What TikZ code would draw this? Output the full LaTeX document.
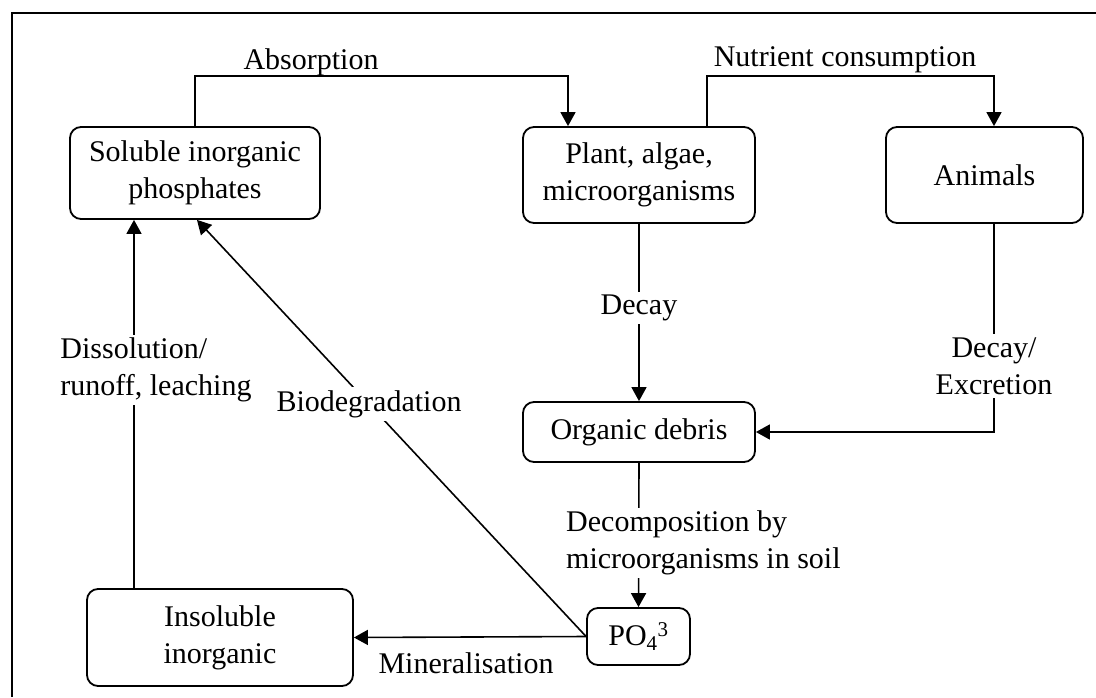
\documentclass[tikz,border=0pt]{standalone}
\usepackage{fontspec}
\setmainfont{Liberation Serif}
\usetikzlibrary{arrows.meta}
\begin{document}
\begin{tikzpicture}[x=1pt,y=-1pt,
  every node/.style={font=\fontsize{30}{37}\selectfont, inner sep=0pt},
  box/.style={draw, line width=1.8pt, rounded corners=11pt, align=center, minimum width=#1},
  lab/.style={fill=white, inner sep=3pt, align=center},
  conn/.style={line width=1.6pt},
  arr/.style={conn, -{Triangle[length=14pt,width=15pt]}}]
\useasboundingbox (0,0) rectangle (1096,697);
\draw[line width=1.8pt] (12,697) -- (12,13) -- (1096,13);

\node[box=250, minimum height=92] (sol) at (195,173) {Soluble inorganic\\phosphates};
\node[box=232, minimum height=96] (plant) at (639,175) {Plant, algae,\\microorganisms};
\node[box=197, minimum height=96] (ani) at (984.5,175) {Animals};
\node[box=232, minimum height=60] (org) at (639,432) {Organic debris};
\node[box=103, minimum height=57] (po) at (638.5,636.5) {PO\textsubscript{4}\textsuperscript{3}};
\node[box=266, minimum height=97] (ins) at (220,637.5) {Insoluble\\inorganic};

\draw[arr] (sol.north) -- ++(0,-50) -| ([xshift=-71]plant.north);
\node (labs) at (311,62) {Absorption};
\draw[arr] ([xshift=68]plant.north) -- ++(0,-50) -| ([xshift=9.5]ani.north);
\node (labn) at (845,60) {Nutrient consumption};

\draw[arr] (plant.south) -- (org.north);
\node[lab] (ldecay) at (639,308) {Decay};

\draw[arr] ([xshift=9.5]ani.south) |- (org.east);
\node[lab] (ldex) at (994,366) {Decay/\\Excretion};

\draw[arr] (org.south) -- (po.north);
\node[lab, align=left, anchor=west] (ldec) at (563,543) {Decomposition by\\microorganisms in soil};

\draw[arr] (po.west) -- (ins.east);
\node (lmin) at (466,663) {Mineralisation};

\draw[arr] (po.west) -- ([xshift=2]sol.south);
\node[lab] (lbio) at (369,404) {Biodegradation};

\draw[arr] ([xshift=-86]ins.north) -- ([xshift=-86]ins.north |- sol.south);
\node[lab, align=left] (ldis) at (156,370) {Dissolution/\\runoff, leaching};
\end{tikzpicture}
\end{document}
